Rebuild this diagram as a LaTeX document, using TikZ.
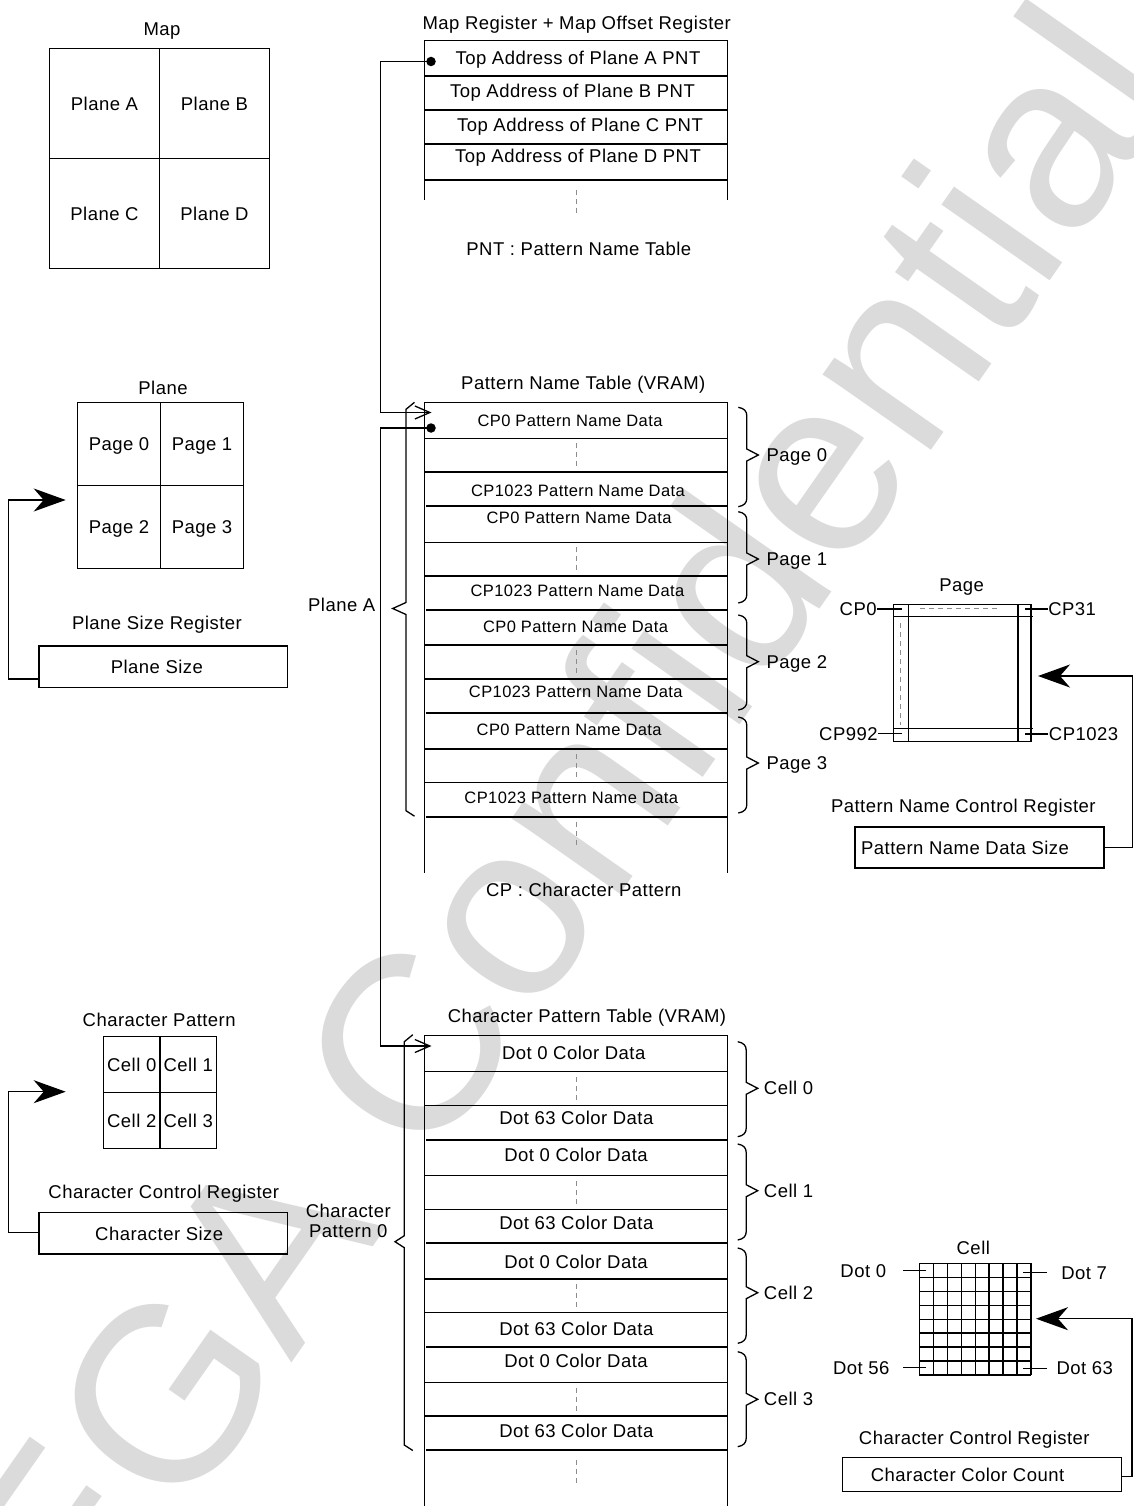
\documentclass[tikz,border=0pt]{standalone}
\usepackage{fontspec}
\setmainfont[LetterSpace=2.5]{Liberation Sans}
\newfontfamily\wmfont{Liberation Sans}
\usetikzlibrary{arrows.meta}
% right brace: x0, ytop, ybot, ymid
\newcommand{\mybrR}[4]{%
  \draw[brc] (#1,#2) .. controls (#1+6,#2+1) and (#1+8.5,#2+4) .. (#1+8.5,#2+8.5)
    -- (#1+8.5,#4-6) -- (#1+20,#4) -- (#1+8.5,#4+6) -- (#1+8.5,#3-8.5)
    .. controls (#1+8.5,#3-4) and (#1+6,#3-1) .. (#1,#3);}
% left brace: xv, ytop, ybot, ymid, depth
\newcommand{\mybrL}[5]{%
  \draw[brc] (#1+8.5,#2-7) -- (#1,#2) -- (#1,#4-6) -- (#1-#5,#4) -- (#1,#4+6)
    -- (#1,#3) -- (#1+8.5,#3+5.5);}
\begin{document}
\begin{tikzpicture}[x=1pt,y=-1pt,line width=1.3pt,
  txt/.style={font=\fontsize{18.5}{22}\selectfont, inner sep=0pt, text height=13.2pt, text depth=0pt},
  cptxt/.style={font=\fontsize{16.5}{20}\selectfont, inner sep=0pt, text height=11.8pt, text depth=0pt},
  txtml/.style={font=\fontsize{18.5}{20.3}\selectfont, inner sep=0pt, align=center},
  quad/.style={txt, draw, line width=1.3pt},
  regbox/.style={txt, draw, line width=1.3pt},
  thick row/.style={line width=2pt},
  gdash/.style={draw=black!45, line width=0.9pt, dash pattern=on 5pt off 4pt},
  brc/.style={line width=1.3pt, line join=miter},
  bigarr/.style={-{Stealth[length=32pt,width=23pt,inset=10pt]}},
  openarr/.style={-{Straight Barb[length=15pt,width=13pt]}},
  bullet/.style={circle, fill=black, inner sep=0pt, minimum size=9.5pt},
  wmark/.style={text=black!14, font=\wmfont\fontsize{250}{250}\selectfont, inner sep=0pt, rotate=55}
]
\useasboundingbox (0,0) rectangle (1133,1506);

% ---------- watermark ----------
\node[wmark] (wm) at (513.6,891.4) {SEGA Confidential};

% ---------- Map ----------
\node[txt] (maptitle) at (162,29.3) {Map};
\node[quad, minimum width=110pt, minimum height=110pt] (pla) at (104.5,103.5) {Plane A};
\node[quad, minimum width=110pt, minimum height=110pt] (plb) at (214.5,103.5) {Plane B};
\node[quad, minimum width=110pt, minimum height=110pt] (plc) at (104.5,213.5) {Plane C};
\node[quad, minimum width=110pt, minimum height=110pt] (pld) at (214.5,213.5) {Plane D};

% ---------- Plane ----------
\node[txt] (planetitle) at (163,388) {Plane};
\node[quad, minimum width=83pt, minimum height=83pt] (pg0) at (119,444) {Page 0};
\node[quad, minimum width=83pt, minimum height=83pt] (pg1) at (202,444) {Page 1};
\node[quad, minimum width=83pt, minimum height=83pt] (pg2) at (119,527) {Page 2};
\node[quad, minimum width=83pt, minimum height=83pt] (pg3) at (202,527) {Page 3};
\coordinate (planein) at (65.7,500);

\node[txt] (psrtitle) at (157,623) {Plane Size Register};
\node[regbox, minimum width=248.7pt, minimum height=41.7pt] (psbox) at (163.4,666.8) {Plane Size\hspace*{13pt}};
\draw[bigarr] ([yshift=-12.2pt]psbox.west) -- ++(-29.7,0) |- (planein);

% ---------- Character Pattern ----------
\node[txt] (cptitle) at (159.2,1019.7) {Character Pattern};
\node[quad, minimum width=56.5pt, minimum height=56pt] (c0) at (131.75,1064.5) {Cell 0};
\node[quad, minimum width=56.5pt, minimum height=56pt] (c1) at (188.25,1064.5) {Cell 1};
\node[quad, minimum width=56.5pt, minimum height=56pt] (c2) at (131.75,1120.5) {Cell 2};
\node[quad, minimum width=56.5pt, minimum height=56pt] (c3) at (188.25,1120.5) {Cell 3};
\coordinate (cellin) at (65.7,1091.7);

\node[txt] (ccrtitle) at (163.8,1192.2) {Character Control Register};
\node[regbox, minimum width=248.3pt, minimum height=41.3pt] (csbox) at (163.2,1233.4) {Character Size\hspace*{8pt}};
\draw[bigarr] ([yshift=1.1pt]csbox.west) -- ++(-29.7,0) |- (cellin);

% ---------- Map Register table ----------
\node[txt] (mrtitle) at (576.7,23) {Map Register + Map Offset Register};
\draw (424.3,40.7) -- (424.3,200) (727.7,40.7) -- (727.7,200);
\draw (424.3,40.7) -- (727.7,40.7);
\draw[thick row] (424.3,76.3) -- (727.7,76.3) (424.3,110) -- (727.7,110)
  (424.3,144) -- (727.7,144) (424.3,180) -- (727.7,180);
\draw[gdash] (576.7,190) -- (576.7,213);
\node[txt] (mr1) at (578,57.7) {Top Address of Plane A PNT};
\node[txt] (mr2) at (572.5,91.2) {Top Address of Plane B PNT};
\node[txt] (mr3) at (580,125) {Top Address of Plane C PNT};
\node[txt] (mr4) at (578,155.7) {Top Address of Plane D PNT};
\node[txt] (pntnote) at (578.8,248.7) {PNT : Pattern Name Table};
\node[bullet] (b1) at (431,61.5) {};

% ---------- Pattern Name Table ----------
\node[txt] (pnttitle) at (583.3,382.5) {Pattern Name Table (VRAM)};
\draw (424.3,402.3) -- (424.3,873.3) (727.7,402.3) -- (727.7,873.3);
\draw (424.3,402.3) -- (727.7,402.3);
\foreach \yy in {438.3,472,542.3,576,645,679,749,782.7}
  \draw (424.3,\yy) -- (727.7,\yy);
\foreach \yy in {506,609.5,713.3,816.7}
  \draw[thick row] (426,\yy) -- (727.7,\yy);
\foreach \ya/\yb in {443/467,547/571,650/674,754/778,821.7/848.3}
  \draw[gdash] (576.7,\ya) -- (576.7,\yb);
\node[cptxt] (pn1) at (570,420.3) {CP0 Pattern Name Data};
\node[cptxt] (pn2) at (578,490.8) {CP1023 Pattern Name Data};
\node[cptxt] (pn3) at (579,518) {CP0 Pattern Name Data};
\node[cptxt] (pn4) at (577.5,590.8) {CP1023 Pattern Name Data};
\node[cptxt] (pn5) at (575.5,627) {CP0 Pattern Name Data};
\node[cptxt] (pn6) at (575.8,691.7) {CP1023 Pattern Name Data};
\node[cptxt] (pn7) at (569.2,729.7) {CP0 Pattern Name Data};
\node[cptxt] (pn8) at (571.3,798) {CP1023 Pattern Name Data};
\node[txt] (cpnote) at (583.8,890) {CP : Character Pattern};
\node[bullet] (b2) at (431,428) {};
\coordinate (pnin) at (431.5,412.5);
\coordinate (cpin) at (431.5,1046);
\draw[openarr] (b1.center) -- ++(-50.5,0) |- (pnin);
\draw[openarr] (b2.center) -- ++(-50.5,0) |- (cpin);

\mybrR{738.3}{407.3}{506.7}{455}
\mybrR{738.3}{511.7}{603}{559}
\mybrR{738.3}{615}{710}{661.7}
\mybrR{738.3}{717}{813}{763}
\node[txt, anchor=west] (pl0) at (766,455) {Page 0};
\node[txt, anchor=west] (pl1) at (766,559) {Page 1};
\node[txt, anchor=west] (pl2) at (766,661.7) {Page 2};
\node[txt, anchor=west] (pl3) at (766,763) {Page 3};

\mybrL{406}{409.3}{810.7}{608.5}{13.3}
\node[txt] (planeA) at (341.7,604.5) {Plane A};

% ---------- Character Pattern Table ----------
\node[txt] (cpttitle) at (587,1016.3) {Character Pattern Table (VRAM)};
\draw (424.3,1035.7) -- (424.3,1506) (727.7,1035.7) -- (727.7,1506);
\draw (424.3,1035.7) -- (727.7,1035.7);
\foreach \yy in {1071.7,1105.7,1175.7,1209.3,1279,1312.3,1382.7,1416}
  \draw (424.3,\yy) -- (727.7,\yy);
\foreach \yy in {1140,1243.3,1346.7,1450}
  \draw[thick row] (426,\yy) -- (727.7,\yy);
\foreach \ya/\yb in {1077/1101,1181/1204,1284/1307,1388/1411,1460/1485}
  \draw[gdash] (576.7,\ya) -- (576.7,\yb);
\node[txt] (dt1) at (573.7,1052.8) {Dot 0 Color Data};
\node[txt] (dt2) at (576.3,1117.8) {Dot 63 Color Data};
\node[txt] (dt3) at (576,1154.5) {Dot 0 Color Data};
\node[txt] (dt4) at (576.3,1223) {Dot 63 Color Data};
\node[txt] (dt5) at (576,1262) {Dot 0 Color Data};
\node[txt] (dt6) at (576.3,1329) {Dot 63 Color Data};
\node[txt] (dt7) at (576,1360.5) {Dot 0 Color Data};
\node[txt] (dt8) at (576.3,1430.5) {Dot 63 Color Data};

\mybrR{737.7}{1041.7}{1136.7}{1088.3}
\mybrR{737.7}{1144}{1240}{1190.7}
\mybrR{737.7}{1248}{1343.3}{1292.7}
\mybrR{737.7}{1351.7}{1446.7}{1399.3}
\node[txt, anchor=west] (cl0) at (763.3,1087.5) {Cell 0};
\node[txt, anchor=west] (cl1) at (763.3,1190.5) {Cell 1};
\node[txt, anchor=west] (cl2) at (763.3,1293) {Cell 2};
\node[txt, anchor=west] (cl3) at (763.3,1399) {Cell 3};

\mybrL{404.3}{1041.7}{1445}{1241.7}{9.3}
\node[txtml, anchor=base] (cp0lbl) at (348.3,1237.3) {Character\\Pattern 0};

% ---------- Page diagram ----------
\node[txt] (pagetitle) at (961.7,584.5) {Page};
\draw (893.3,604.3) rectangle (1031,741.7);
\draw (908.7,604.3) -- (908.7,741.7) (1018,604.3) -- (1018,741.7);
\draw (893.3,616.7) -- (1033,616.7) (893.3,728.3) -- (1033,728.3);
\draw[gdash] (920,608.3) -- (1000,608.3);
\draw[gdash] (900,623) -- (900,725);
\node[txt, anchor=east] (lcp0) at (877.3,609) {CP0};
\node[txt, anchor=west] (lcp31) at (1047.7,609) {CP31};
\node[txt, anchor=east] (lcp992) at (878.3,733.8) {CP992};
\node[txt, anchor=west] (lcp1023) at (1048.3,734) {CP1023};
\draw (lcp0.east) -- ++(24.5,0);
\draw (lcp31.west) -- ++(-22.7,0);
\draw (lcp992.east) -- ++(23.5,0);
\draw (lcp1023.west) -- ++(-23.3,0);
\coordinate (pagein) at (1038,676);

\node[txt] (pncrtitle) at (963.3,805.5) {Pattern Name Control Register};
\node[regbox, minimum width=249pt, minimum height=41pt] (pnbox) at (979.5,847.5) {Pattern Name Data Size\hspace*{29pt}};
\draw[bigarr] (pnbox.east) -- ++(27.7,0) |- (pagein);

% ---------- Cell diagram ----------
\node[txt] (celltitle) at (973.3,1248) {Cell};
\foreach \i in {0,...,8} {
  \draw ({919.3+\i*13.96},1263.3) -- ({919.3+\i*13.96},1375);
  \draw (919.3,{1263.3+\i*13.96}) -- (1031,{1263.3+\i*13.96});
}
\node[txt, anchor=east] (d0) at (886.7,1270.8) {Dot 0};
\node[txt, anchor=west] (d7) at (1060.7,1272.5) {Dot 7};
\node[txt, anchor=east] (d56) at (890,1367.8) {Dot 56};
\node[txt, anchor=west] (d63) at (1056,1368.3) {Dot 63};
\draw ([xshift=16.3pt]d0.east) -- ++(23,0);
\draw ([xshift=-13.7pt]d7.west) -- ++(-24,0);
\draw ([xshift=13pt]d56.east) -- ++(23,0);
\draw ([xshift=-9pt]d63.west) -- ++(-24,0);
\coordinate (cellgin) at (1036,1318.7);

\node[txt] (ccr2title) at (974.3,1437.8) {Character Control Register};
\node[regbox, minimum width=279.4pt, minimum height=34pt] (ccbox) at (982,1474.7) {Character Color Count\hspace*{29pt}};
\draw[bigarr] ([yshift=-2pt]ccbox.east) -- ++(9.7,0) |- (cellgin);

\end{tikzpicture}
\end{document}
